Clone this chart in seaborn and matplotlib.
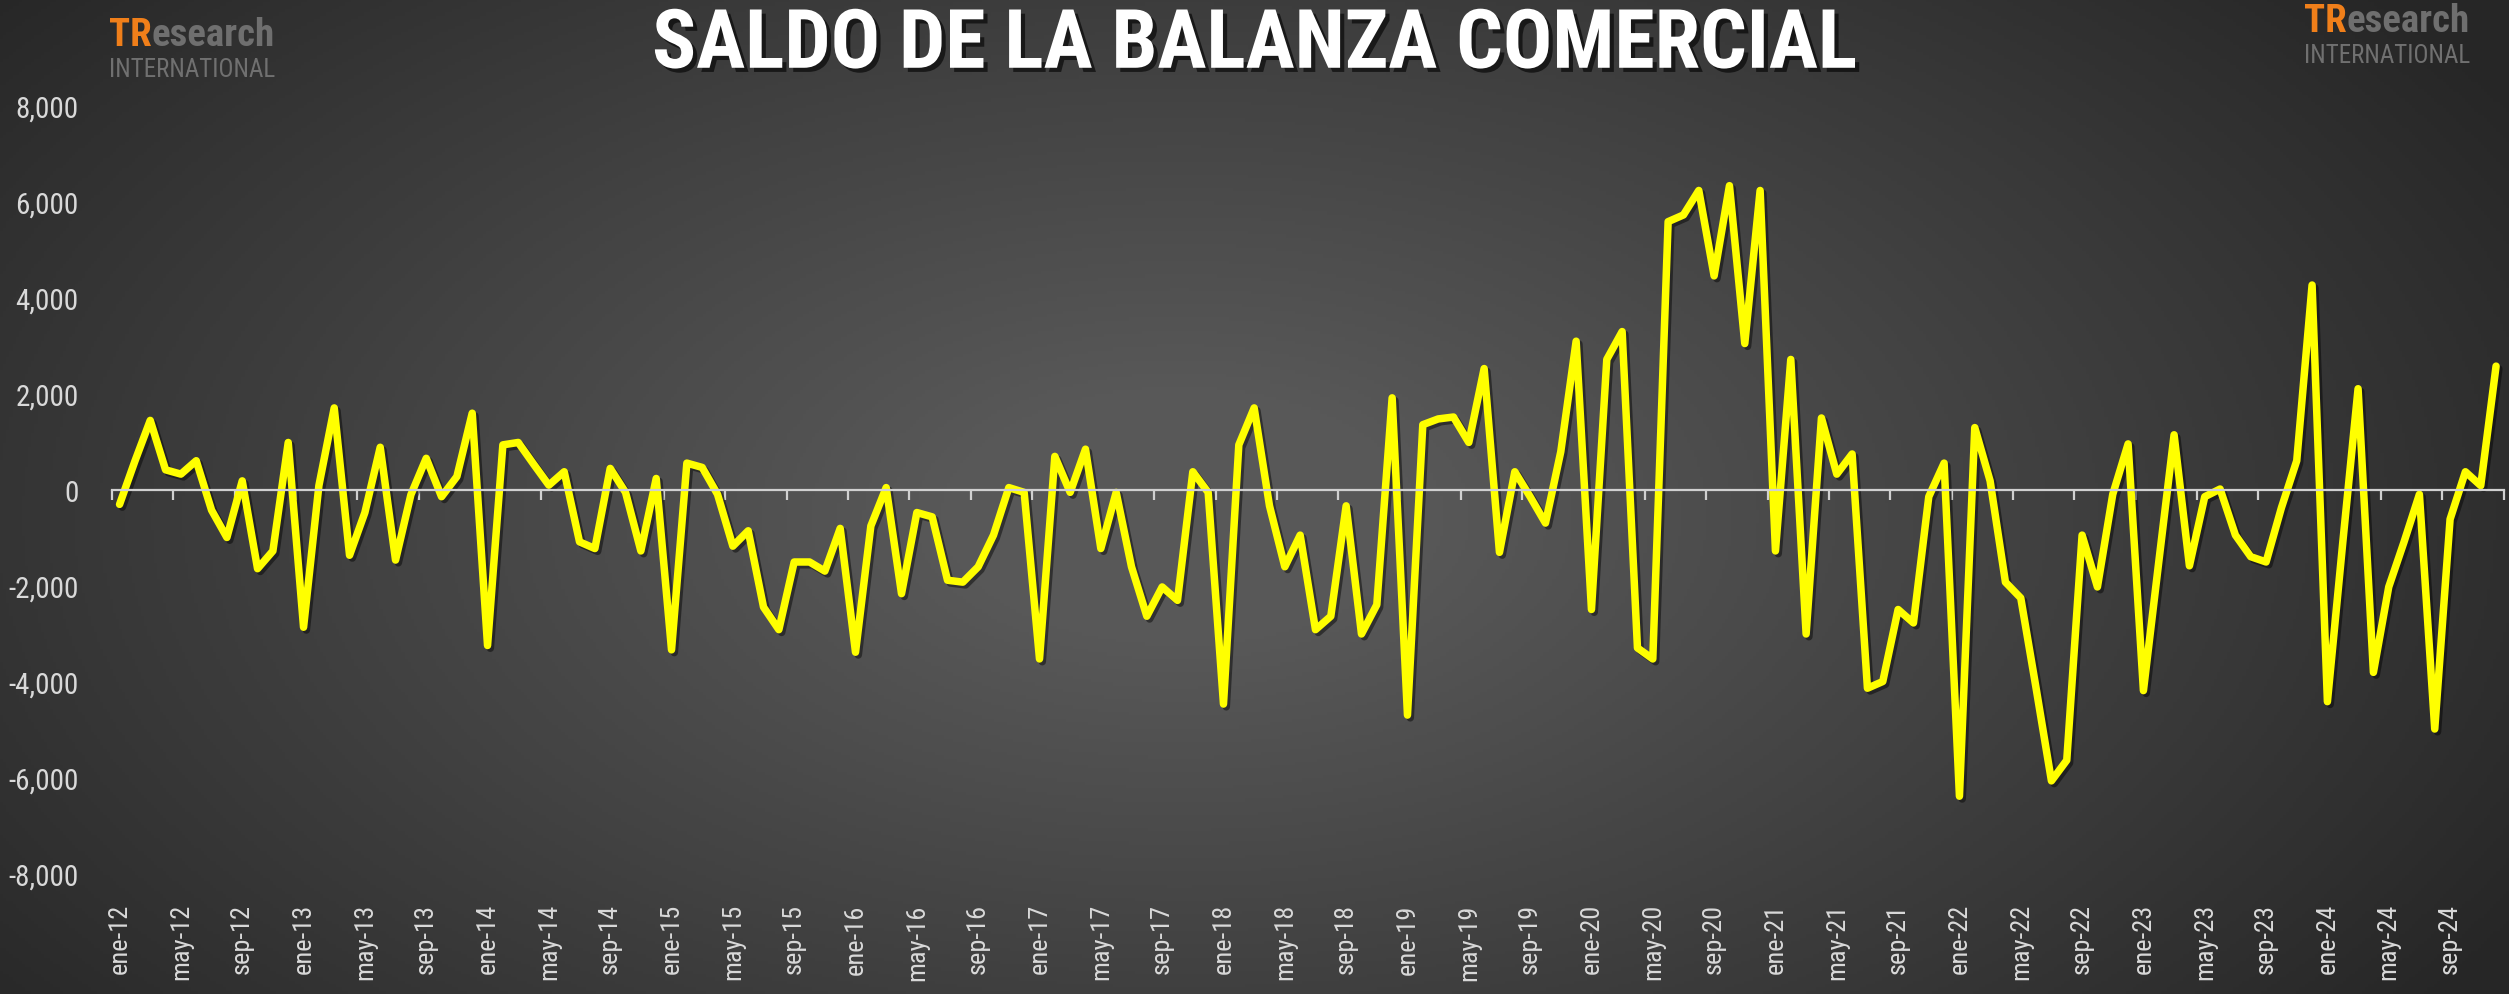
import numpy as np
import pandas as pd
import seaborn as sns
import matplotlib.pyplot as plt
import matplotlib.patheffects as pe
from matplotlib.colors import LinearSegmentedColormap
from matplotlib.ticker import FuncFormatter

# saldo mensual, ene-12 .. dic-24
meses = ['ene', 'feb', 'mar', 'abr', 'may', 'jun', 'jul', 'ago', 'sep', 'oct', 'nov', 'dic']
anios = list(range(12, 25))
saldo = [
    -300, 600, 1450, 420, 330, 610, -420, -990, 190, -1640, -1270, 990,
    -2860, 90, 1710, -1360, -470, 890, -1460, -100, 660, -140, 280, 1600,
    -3240, 940, 990, 540, 100, 380, -1080, -1220, 450, -50, -1270, 240,
    -3330, 560, 470, -90, -1170, -850, -2440, -2910, -1500, -1500, -1690, -800,
    -3380, -750, 50, -2160, -470, -560, -1880, -1920, -1600, -940, 50, -50,
    -3520, 700, -50, 850, -1220, -50, -1600, -2630, -2020, -2300, 380, -50,
    -4460, 940, 1710, -330, -1600, -940, -2910, -2630, -330, -3000, -2390, 1920,
    -4690, 1360, 1480, 1520, 990, 2530, -1300, 380, -140, -690, 800, 3100,
    -2490, 2720, 3300, -3290, -3520, 5590, 5730, 6240, 4460, 6340, 3050, 6240,
    -1270, 2720, -3000, 1500, 330, 750, -4130, -3990, -2490, -2770, -140, 560,
    -6380, 1300, 190, -1920, -2250, -4130, -6060, -5630, -940, -2020, -90, 960,
    -4180, -1500, 1150, -1580, -140, 20, -940, -1390, -1500, -370, 610, 4270,
    -4410, -1100, 2110, -3800, -2020, -1080, -90, -4980, -610, 380, 90, 2580,
]
periodos = [f'{m}-{a}' for a in anios for m in meses]
y_ticks = list(range(-8000, 8001, 2000))

df = pd.DataFrame({'n': np.arange(len(saldo)), 'periodo': periodos, 'saldo': saldo})

sns.set_style('dark')
plt.rcParams['font.family'] = ['Roboto Condensed', 'DejaVu Sans']
plt.rcParams['font.stretch'] = 'condensed'

fig = plt.figure(figsize=(25.09, 9.95), dpi=100)

# fondo gris con degradado radial
bg = fig.add_axes([0, 0, 1, 1], zorder=0)
yy, xx = np.mgrid[0:1:300j, 0:1:800j]
r = np.sqrt(((xx - 0.47) / 0.62) ** 2 + ((yy - 0.52) / 0.85) ** 2)
cmap = LinearSegmentedColormap.from_list('fondo', ['#262626', '#585858'])
bg.imshow(np.clip(1 - r, 0, 1), cmap=cmap, aspect='auto', extent=[0, 1, 0, 1],
          vmin=0, vmax=0.85)
bg.set_axis_off()

ax = fig.add_axes([0.0446, 0.1206, 0.9533, 0.7719], zorder=1)
ax.set_facecolor('none')

sns.lineplot(data=df, x='n', y='saldo', ax=ax, color='#ffff00', linewidth=5.4, sort=False)
line = ax.lines[0]
line.set_solid_joinstyle('round')
line.set_solid_capstyle('round')
line.set_path_effects([pe.SimpleLineShadow(offset=(2, -2), shadow_color='black', alpha=0.45),
                       pe.Normal()])

ax.set_xlim(-0.5, len(saldo) - 0.5)
ax.set_ylim(-8000, 8000)
ax.grid(False)
ax.set_xlabel('')
ax.set_ylabel('')

ax.set_yticks(y_ticks)
ax.yaxis.set_major_formatter(FuncFormatter(lambda v, p: f'{v:,.0f}'))
ax.tick_params(axis='y', length=0, pad=24, labelsize=21, labelcolor='#d9d9d9')

for s in ['left', 'top', 'right']:
    ax.spines[s].set_visible(False)
ax.spines['bottom'].set_position(('data', 0))
ax.spines['bottom'].set_color('#d0d0d0')
ax.spines['bottom'].set_linewidth(1.6)

ax.set_xticks(np.arange(-0.5, len(saldo), 4))
ax.set_xticklabels([])
ax.tick_params(axis='x', length=7, width=1.6, color='#d0d0d0', direction='out', bottom=True)

sec = ax.secondary_xaxis('bottom')
sec.set_xticks(df['n'][::4], df['periodo'][::4])
sec.tick_params(length=0, pad=21, labelsize=19, labelcolor='#d9d9d9', labelrotation=90)
sec.spines['bottom'].set_visible(False)

fig.text(0.5, 0.953, 'SALDO DE LA BALANZA COMERCIAL', ha='center', va='center',
         fontsize=59, fontweight='bold', color='white',
         path_effects=[pe.withSimplePatchShadow(offset=(3, -3), shadow_rgbFace='black', alpha=0.6)])

# logos
for x0, yb, yi in [(109 / 2509, 1 - 54 / 995, 1 - 77 / 995), (2304 / 2509, 1 - 40 / 995, 1 - 63 / 995)]:
    t1 = fig.text(x0, yb, 'TR', ha='left', va='bottom', fontsize=28, fontweight='bold',
                  color='#f07f1a')
    bg.annotate('esearch', xy=(1, 0), xycoords=t1, ha='left', va='bottom', fontsize=28,
                fontweight='bold', color='#6f6f6f')
    fig.text(x0, yi, 'INTERNATIONAL', ha='left', va='baseline', fontsize=18, color='#707070')

fig.savefig('out.png', dpi=100, facecolor=fig.get_facecolor())
